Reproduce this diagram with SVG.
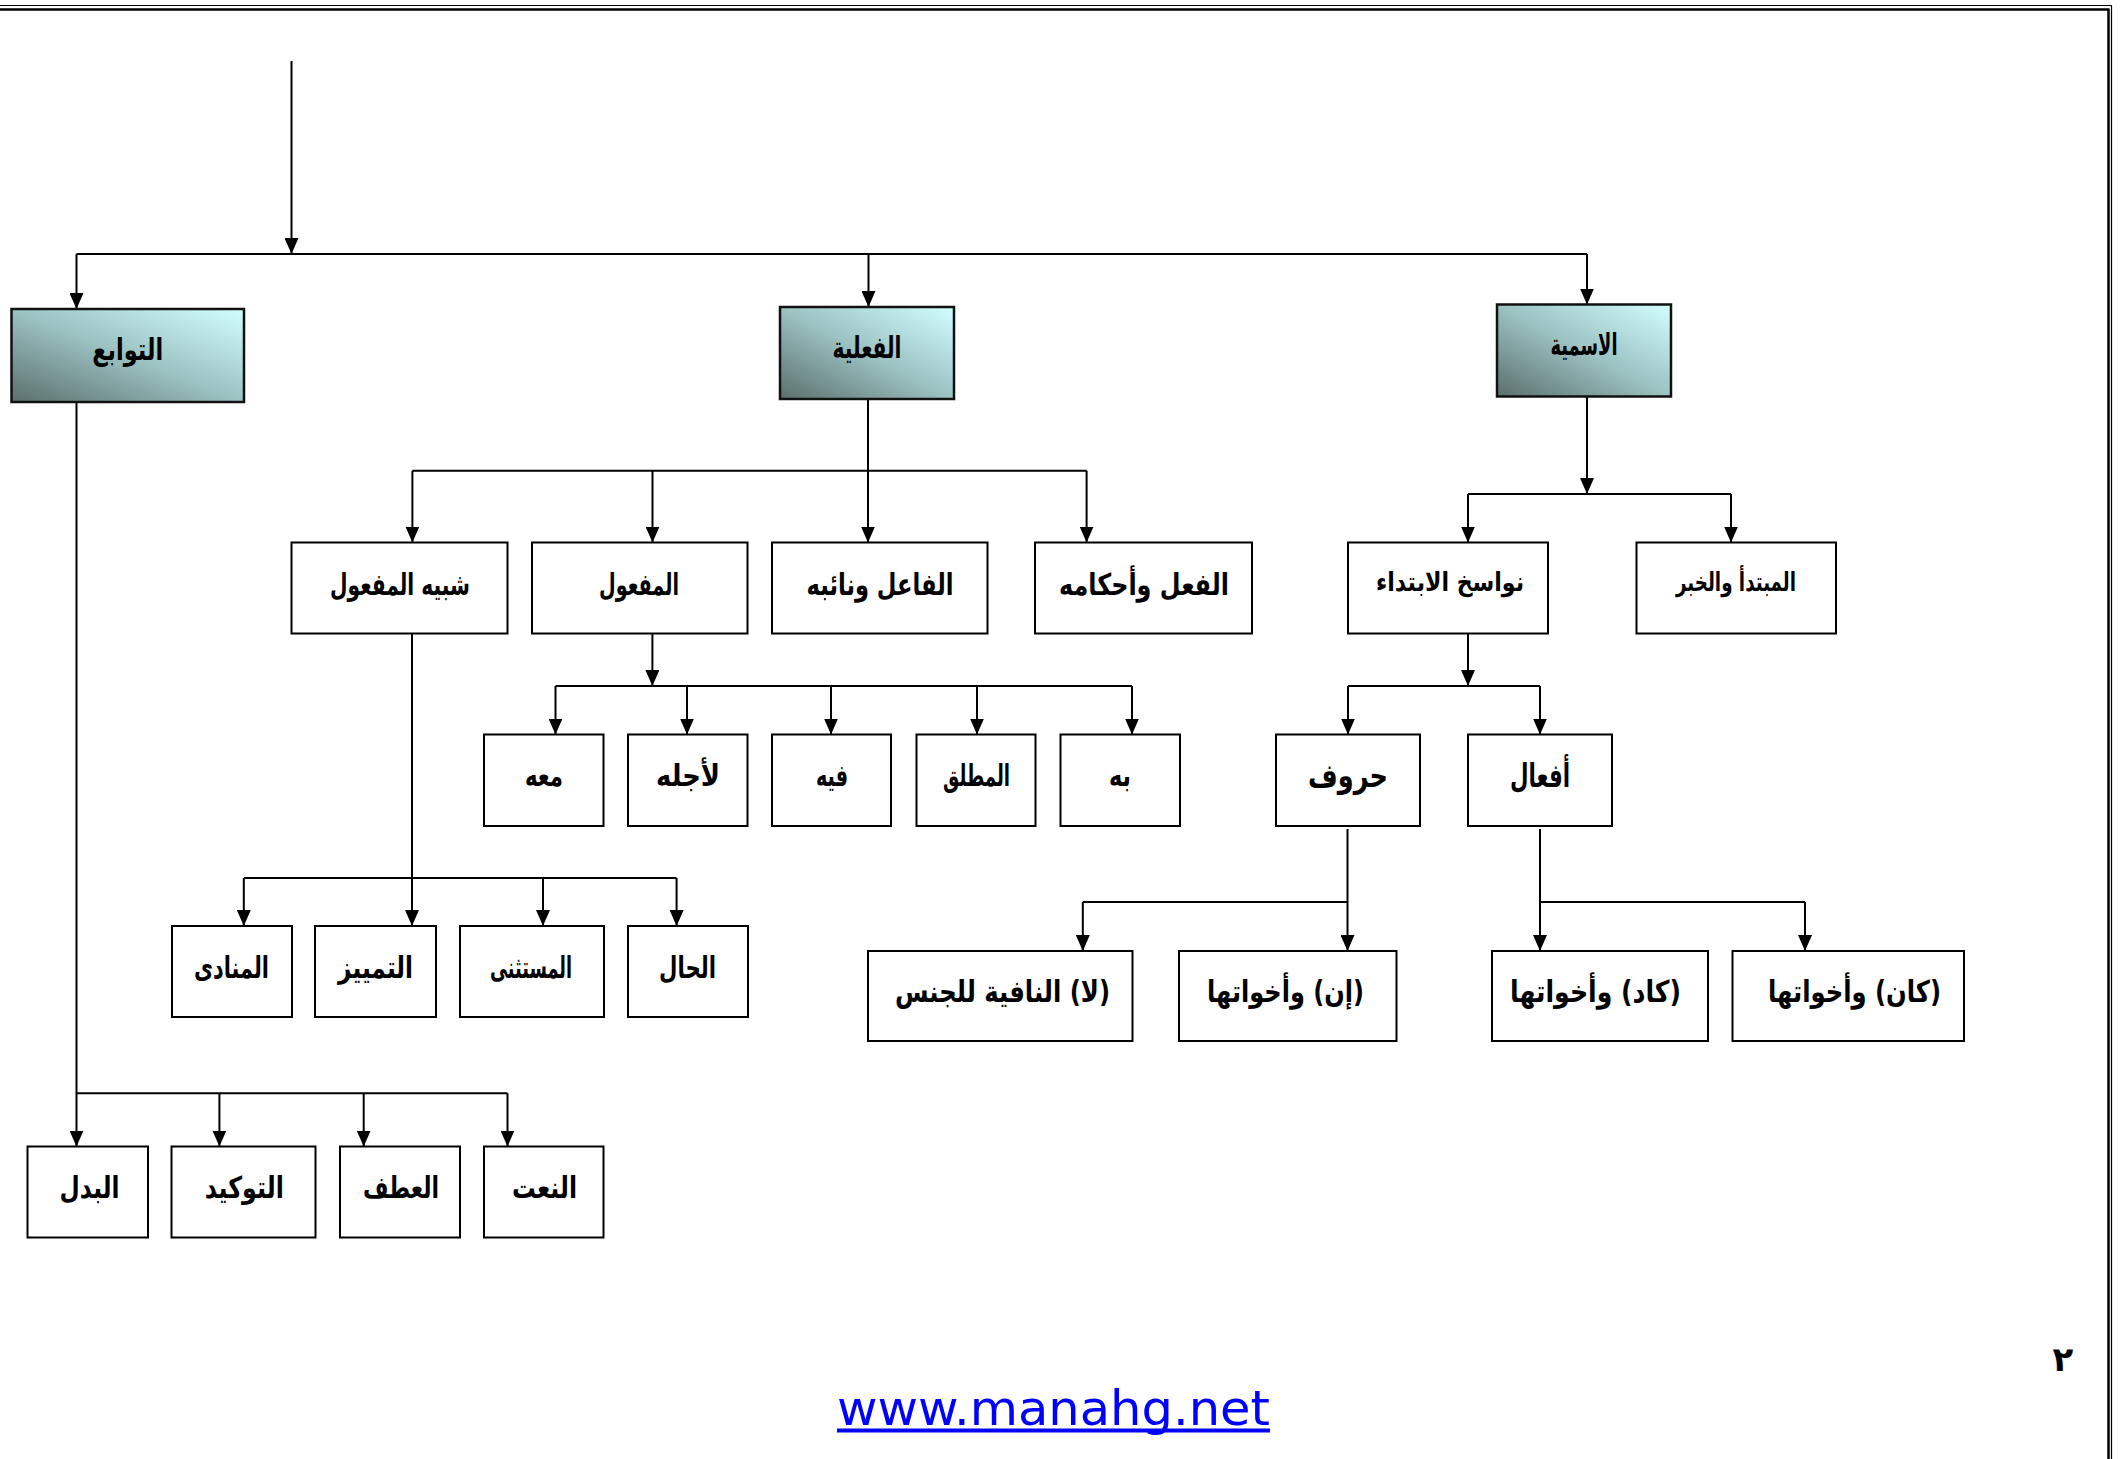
<svg xmlns="http://www.w3.org/2000/svg" width="2127" height="1459" viewBox="0 0 2127 1459">
<defs>
<linearGradient id="teal" x1="0" y1="1" x2="1" y2="0">
<stop offset="0" stop-color="#5a6f6d"/>
<stop offset="0.5" stop-color="#9cc2c2"/>
<stop offset="1" stop-color="#d2ffff"/>
</linearGradient>
<marker id="arr" markerUnits="userSpaceOnUse" markerWidth="16" markerHeight="14" viewBox="0 0 16 14" refX="16" refY="7" orient="auto">
<path d="M0,0 L16,7 L0,14 z" fill="#000"/>
</marker>
<style>
.box{fill:#fff;stroke:#000;stroke-width:2}
.top{fill:url(#teal);stroke:#111;stroke-width:2.5}
.lbl{font-family:"DejaVu Sans",sans-serif;font-weight:bold;font-size:30px;fill:#000;text-anchor:middle;direction:rtl}
.sm{font-size:26px}
.big{font-size:33px}
.ln{fill:none;stroke:#000;stroke-width:2}
.ar{fill:none;stroke:#000;stroke-width:2;marker-end:url(#arr)}
.bd{fill:none;stroke:#000}
</style>
</defs>
<rect width="2127" height="1459" fill="#fff"/>
<g id="page-border">
<line class="bd" x1="0" y1="5.5" x2="2111.5" y2="5.5" stroke-width="1.2"/>
<line class="bd" x1="0" y1="9.5" x2="2108.5" y2="9.5" stroke-width="2.5"/>
<line class="bd" x1="2111.5" y1="5" x2="2111.5" y2="1459" stroke-width="1.2"/>
<line class="bd" x1="2108.5" y1="8.5" x2="2108.5" y2="1459" stroke-width="2.5"/>
</g>
<g id="connectors">
<path class="ar" d="M291.5,61 V254"/>
<path class="ln" d="M76.5,254 H1587" stroke-width="2.5"/>
<path class="ar" d="M76.5,254 V309"/>
<path class="ar" d="M868.5,254 V307"/>
<path class="ar" d="M1587,254 V304.5"/>
<path class="ar" d="M868,399 V542.5"/>
<path class="ln" d="M412.4,470.7 H1086.6"/>
<path class="ar" d="M412.4,470.7 V542.5"/>
<path class="ar" d="M652.5,470.7 V542.5"/>
<path class="ar" d="M1086.6,470.7 V542.5"/>
<path class="ar" d="M1587,396.5 V494"/>
<path class="ln" d="M1468,494 H1731"/>
<path class="ar" d="M1468,494 V542.5"/>
<path class="ar" d="M1731,494 V542.5"/>
<path class="ar" d="M652.4,633.5 V686"/>
<path class="ln" d="M555.5,686 H1132"/>
<path class="ar" d="M555.5,686 V734.5"/>
<path class="ar" d="M687,686 V734.5"/>
<path class="ar" d="M831,686 V734.5"/>
<path class="ar" d="M977,686 V734.5"/>
<path class="ar" d="M1132,686 V734.5"/>
<path class="ar" d="M1468,633.5 V686"/>
<path class="ln" d="M1348,686 H1540"/>
<path class="ar" d="M1348,686 V734.5"/>
<path class="ar" d="M1540,686 V734.5"/>
<path class="ar" d="M412,633.5 V926"/>
<path class="ln" d="M243.8,878 H676.6"/>
<path class="ar" d="M243.8,878 V926"/>
<path class="ar" d="M543,878 V926"/>
<path class="ar" d="M676.6,878 V926"/>
<path class="ar" d="M76.5,402 V1146.5"/>
<path class="ln" d="M76.5,1093.3 H507.5"/>
<path class="ar" d="M219.4,1093.3 V1146.5"/>
<path class="ar" d="M363.7,1093.3 V1146.5"/>
<path class="ar" d="M507.5,1093.3 V1146.5"/>
<path class="ar" d="M1347.5,829 V951"/>
<path class="ln" d="M1082.8,902 H1347.5"/>
<path class="ar" d="M1082.8,902 V951"/>
<path class="ar" d="M1540,829 V951"/>
<path class="ln" d="M1540,902 H1805"/>
<path class="ar" d="M1805,902 V951"/>
</g>
<g id="n-tawabi"><rect class="top" x="11.5" y="309" width="232.5" height="93"/><text class="lbl" x="127.7" y="360" textLength="71" lengthAdjust="spacingAndGlyphs">التوابع</text></g>
<g id="n-filiya"><rect class="top" x="780" y="307" width="174" height="92"/><text class="lbl" x="867" y="357.5" textLength="69" lengthAdjust="spacingAndGlyphs">الفعلية</text></g>
<g id="n-ismiya"><rect class="top" x="1497" y="304.5" width="174" height="92"/><text class="lbl" x="1584" y="355" textLength="67" lengthAdjust="spacingAndGlyphs">الاسمية</text></g>

<g id="n-shibh"><rect class="box" x="291.5" y="542.5" width="216" height="91"/><text class="lbl" x="400" y="594.5" textLength="140" lengthAdjust="spacingAndGlyphs">شبيه المفعول</text></g>
<g id="n-mafool"><rect class="box" x="532" y="542.5" width="215.5" height="91"/><text class="lbl" x="639" y="594.5" textLength="80" lengthAdjust="spacingAndGlyphs">المفعول</text></g>
<g id="n-fail"><rect class="box" x="772" y="542.5" width="215.5" height="91"/><text class="lbl" x="880" y="594.5" textLength="147" lengthAdjust="spacingAndGlyphs">الفاعل ونائبه</text></g>
<g id="n-fil"><rect class="box" x="1035" y="542.5" width="217" height="91"/><text class="lbl" x="1144" y="594.5" textLength="170" lengthAdjust="spacingAndGlyphs">الفعل وأحكامه</text></g>
<g id="n-nawasikh"><rect class="box" x="1348" y="542.5" width="200" height="91"/><text class="lbl sm" x="1450" y="591" textLength="148" lengthAdjust="spacingAndGlyphs">نواسخ الابتداء</text></g>
<g id="n-mubtada"><rect class="box" x="1636.5" y="542.5" width="199.5" height="91"/><text class="lbl sm" x="1736" y="591" textLength="120" lengthAdjust="spacingAndGlyphs">المبتدأ والخبر</text></g>

<g id="n-maah"><rect class="box" x="484" y="734.5" width="119.5" height="91.5"/><text class="lbl" x="544" y="786" textLength="38" lengthAdjust="spacingAndGlyphs">معه</text></g>
<g id="n-liajlih"><rect class="box" x="628" y="734.5" width="119.5" height="91.5"/><text class="lbl" x="688" y="786" textLength="64" lengthAdjust="spacingAndGlyphs">لأجله</text></g>
<g id="n-fih"><rect class="box" x="772" y="734.5" width="119" height="91.5"/><text class="lbl" x="832" y="786" textLength="32" lengthAdjust="spacingAndGlyphs">فيه</text></g>
<g id="n-mutlaq"><rect class="box" x="916.5" y="734.5" width="119" height="91.5"/><text class="lbl" x="976.5" y="786" textLength="67" lengthAdjust="spacingAndGlyphs">المطلق</text></g>
<g id="n-bih"><rect class="box" x="1060.5" y="734.5" width="119.5" height="91.5"/><text class="lbl" x="1120" y="786" textLength="22" lengthAdjust="spacingAndGlyphs">به</text></g>
<g id="n-huruf"><rect class="box" x="1276" y="734.5" width="144" height="91.5"/><text class="lbl big" x="1348" y="787" textLength="80" lengthAdjust="spacingAndGlyphs">حروف</text></g>
<g id="n-afal"><rect class="box" x="1468" y="734.5" width="144" height="91.5"/><text class="lbl big" x="1540" y="787" textLength="60" lengthAdjust="spacingAndGlyphs">أفعال</text></g>

<g id="n-munada"><rect class="box" x="172" y="926" width="120" height="91"/><text class="lbl" x="231.5" y="977.5" textLength="75" lengthAdjust="spacingAndGlyphs">المنادى</text></g>
<g id="n-tamyiz"><rect class="box" x="315" y="926" width="121" height="91"/><text class="lbl" x="375.5" y="977.5" textLength="75" lengthAdjust="spacingAndGlyphs">التمييز</text></g>
<g id="n-mustathna"><rect class="box" x="460" y="926" width="144" height="91"/><text class="lbl" x="531" y="977.5" textLength="82" lengthAdjust="spacingAndGlyphs">المستثنى</text></g>
<g id="n-hal"><rect class="box" x="628" y="926" width="120" height="91"/><text class="lbl" x="687.5" y="977.5" textLength="57" lengthAdjust="spacingAndGlyphs">الحال</text></g>

<g id="n-la"><rect class="box" x="868" y="951" width="264.5" height="90"/><text class="lbl" x="1002.5" y="1002" textLength="215" lengthAdjust="spacingAndGlyphs">(لا) النافية للجنس</text></g>
<g id="n-inna"><rect class="box" x="1179" y="951" width="217.5" height="90"/><text class="lbl" x="1285.5" y="1002" textLength="157" lengthAdjust="spacingAndGlyphs">(إن) وأخواتها</text></g>
<g id="n-kada"><rect class="box" x="1492" y="951" width="216" height="90"/><text class="lbl" x="1595.5" y="1002" textLength="171" lengthAdjust="spacingAndGlyphs">(كاد) وأخواتها</text></g>
<g id="n-kana"><rect class="box" x="1732.5" y="951" width="231.5" height="90"/><text class="lbl" x="1854.5" y="1002" textLength="173" lengthAdjust="spacingAndGlyphs">(كان) وأخواتها</text></g>

<g id="n-badal"><rect class="box" x="27.5" y="1146.5" width="120.5" height="91"/><text class="lbl" x="89.5" y="1198" textLength="60" lengthAdjust="spacingAndGlyphs">البدل</text></g>
<g id="n-tawkid"><rect class="box" x="171.5" y="1146.5" width="144" height="91"/><text class="lbl" x="244.3" y="1198" textLength="79" lengthAdjust="spacingAndGlyphs">التوكيد</text></g>
<g id="n-atf"><rect class="box" x="340" y="1146.5" width="120" height="91"/><text class="lbl" x="401" y="1198" textLength="76" lengthAdjust="spacingAndGlyphs">العطف</text></g>
<g id="n-naat"><rect class="box" x="484" y="1146.5" width="119.5" height="91"/><text class="lbl" x="544.5" y="1198" textLength="65" lengthAdjust="spacingAndGlyphs">النعت</text></g>

<g id="footer">
<text x="2063" y="1371" font-family="DejaVu Sans, sans-serif" font-weight="bold" font-size="34" text-anchor="middle">٢</text>
<text x="837" y="1425" font-family="DejaVu Sans, sans-serif" font-size="48" fill="#0000ff" textLength="433" lengthAdjust="spacingAndGlyphs">www.manahg.net</text>
<line x1="837" y1="1430.5" x2="1270" y2="1430.5" stroke="#0000ff" stroke-width="4"/>
</g>
</svg>
